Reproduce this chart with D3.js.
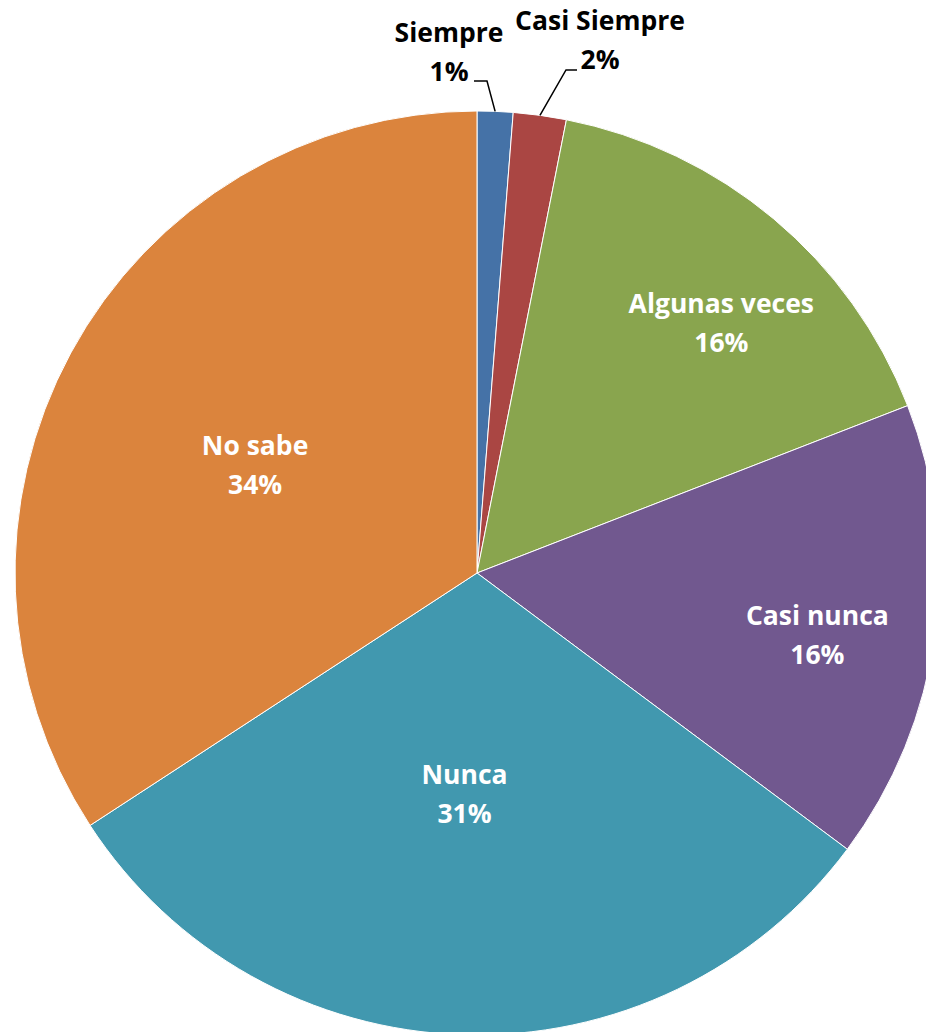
<!DOCTYPE html>
<html>
<head>
<meta charset="utf-8">
<script src="https://cdn.jsdelivr.net/npm/d3@7"></script>
<style>
  body { margin: 0; background: #fff; }
  svg text { font-family: "Open Sans", sans-serif; font-weight: bold; }
</style>
</head>
<body>
<div id="pie_chart"></div>
<script>
// data (percent of answers)
var categories = ["Siempre", "Casi Siempre", "Algunas veces", "Casi nunca", "Nunca", "No sabe"];
var values = [1.25, 1.85, 16.0, 16.1, 30.6, 34.2];
var colors = ["#4572A7", "#AA4643", "#89A54E", "#71588F", "#4198AF", "#DB843D"];

// chart size
var width = 926, height = 1032;
var cx = 477, cy = 573, radius = 462;
var fontSize = 26.5, lineGap = 39;

// inside labels: distance from centre (fraction of radius) and angle nudge in degrees
var labelRadius = [null, null, 0.742, 0.753, 0.5, 0.526];
var labelNudge = [0, 0, 5.5, 4.2, 1.3, -4.4];
// outside labels: text block position relative to pie centre, leader line bend and end
var outsideLabel = {
    0: { x: -28, y: -511.5, elbow: [10, -492], end: [-3, -492] },
    1: { x: 123, y: -524, elbow: [89, -503], end: [100, -503] }
};

var data = categories.map(function (c, i) {
    return { name: c, value: values[i], color: colors[i] };
});
var total = d3.sum(values);

var svg = d3.select("#pie_chart")
    .append("svg")
    .attr("width", width)
    .attr("height", height)
    .append("g")
    .attr("transform", "translate(" + cx + "," + cy + ")");

var pie = d3.pie()
    .sort(null)
    .value(function (d) { return d.value; });

var arc = d3.arc()
    .innerRadius(0)
    .outerRadius(radius);

var arcs = pie(data);

svg.selectAll(".slice")
    .data(arcs)
    .enter()
    .append("path")
    .attr("class", "slice")
    .attr("d", arc)
    .style("fill", function (d) { return d.data.color; })
    .style("stroke", "#fff")
    .style("stroke-width", 1);

function pct(d) { return Math.round(d.data.value / total * 100) + "%"; }

// two line label, x/y is the midpoint between both baselines
function addLabel(x, y, d, fill) {
    var t = svg.append("text")
        .attr("text-anchor", "middle")
        .attr("font-size", fontSize)
        .style("fill", fill);
    t.append("tspan").attr("x", x).attr("y", y - lineGap / 2).text(d.data.name);
    t.append("tspan").attr("x", x).attr("y", y + lineGap / 2).text(pct(d));
}

// inside labels
arcs.forEach(function (d, i) {
    if (labelRadius[i] == null) return;
    var r = radius * labelRadius[i];
    var a = (d.startAngle + d.endAngle) / 2 + labelNudge[i] * Math.PI / 180;
    addLabel(Math.sin(a) * r, -Math.cos(a) * r, d, "#fff");
});

// outside labels with leader lines
arcs.forEach(function (d, i) {
    var o = outsideLabel[i];
    if (!o) return;
    var a = (d.startAngle + d.endAngle) / 2;
    var edge = [Math.sin(a) * radius, -Math.cos(a) * radius];
    svg.append("polyline")
        .attr("points", [edge, o.elbow, o.end].map(function (p) { return p.join(","); }).join(" "))
        .style("fill", "none")
        .style("stroke", "#000")
        .style("stroke-width", 1.5);
    addLabel(o.x, o.y, d, "#000");
});
</script>
</body>
</html>
